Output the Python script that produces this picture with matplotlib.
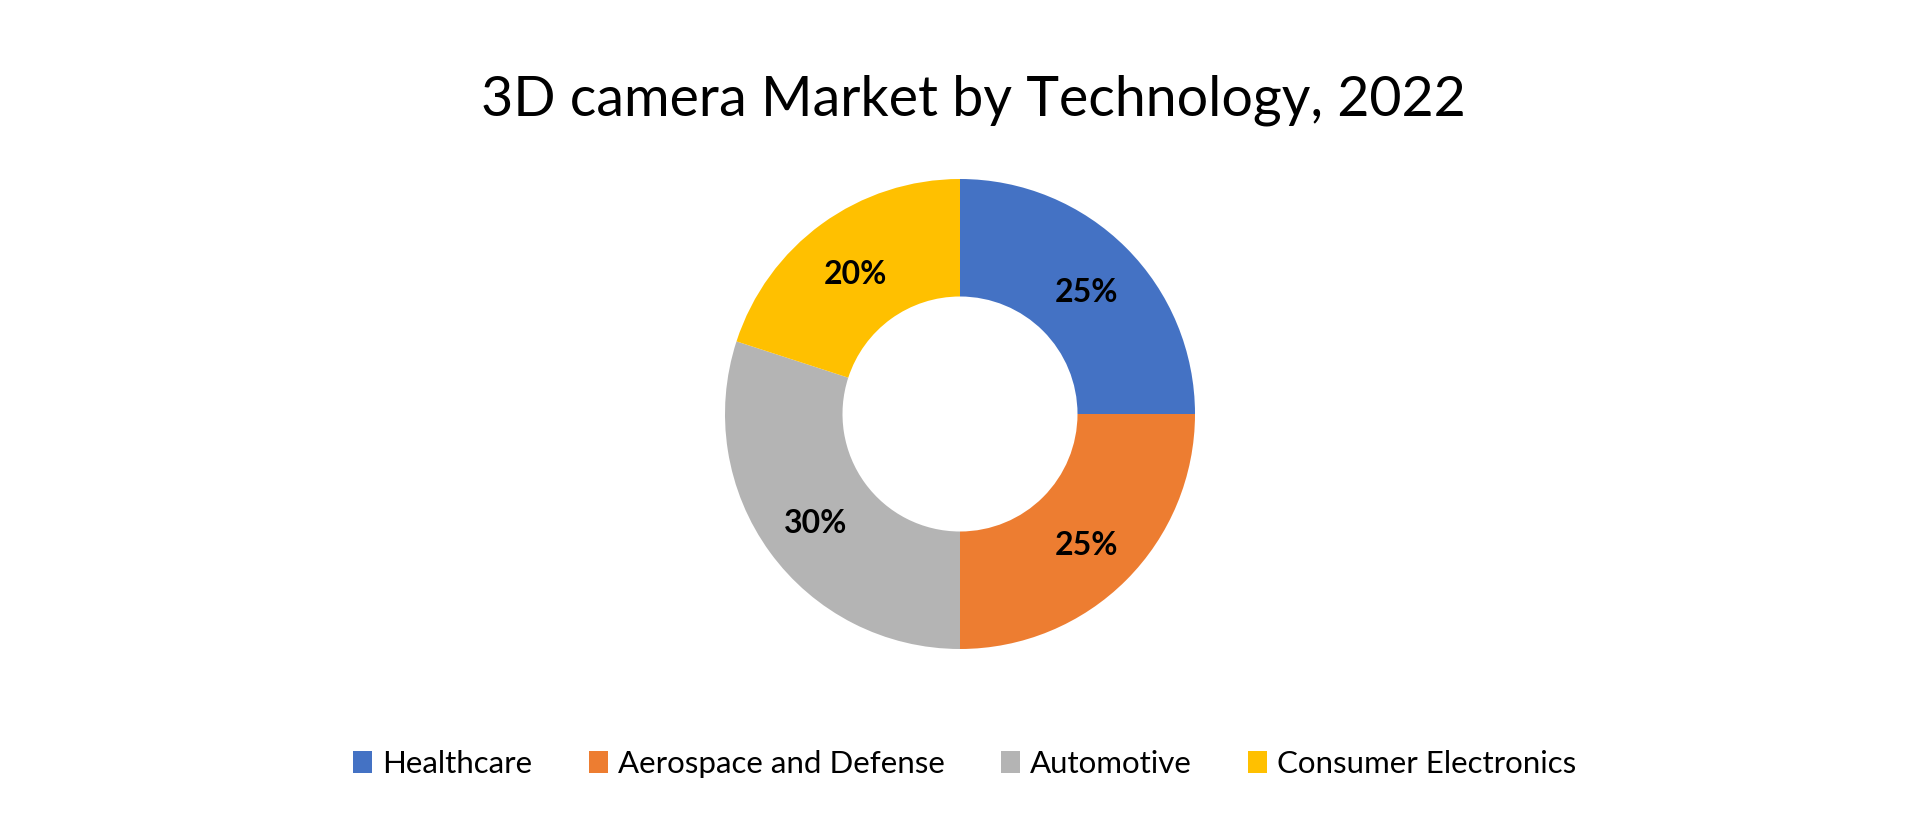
import matplotlib
matplotlib.use("Agg")
import matplotlib.pyplot as plt

categories = ["Healthcare", "Aerospace and Defense", "Automotive", "Consumer Electronics"]
values = [25, 25, 30, 20]
colors = ["#4472C4", "#ED7D31", "#B4B4B4", "#FFC000"]
title = "3D camera Market by Technology, 2022"

W, H = 1920, 818
fig = plt.figure(figsize=(W / 100, H / 100), dpi=100)
fig.patch.set_facecolor("white")

cx, cy, r = 960, 818 - 414, 235
ax = fig.add_axes([(cx - r) / W, (cy - r) / H, 2 * r / W, 2 * r / H])

wedges, texts, autotexts = ax.pie(
    values, colors=colors, startangle=90, counterclock=False,
    wedgeprops=dict(width=0.5, linewidth=0),
    autopct=lambda p: f"{p:.0f}%", pctdistance=0.76,
    textprops=dict(fontsize=23, fontweight="bold", family=["Lato", "DejaVu Sans"], color="black"),
)
for t in autotexts:
    x, y = t.get_position()
    t.set_position((x, y - 5 / r))
ax.set_xlim(-1, 1)
ax.set_ylim(-1, 1)
ax.axis("off")

fig.text(973 / W, 1 - 100 / H, title, ha="center", va="center",
         fontsize=40, family=["Lato", "DejaVu Sans"], color="black")

fig.legend(wedges, categories, loc="center", bbox_to_anchor=(965 / W, 1 - 764 / H),
           ncol=4, frameon=False, prop=dict(family=["Lato", "DejaVu Sans"], size=22.5),
           handlelength=0.6, handleheight=0.7, handletextpad=0.33, columnspacing=1.8)

fig.savefig("out.png", dpi=100, facecolor="white")
